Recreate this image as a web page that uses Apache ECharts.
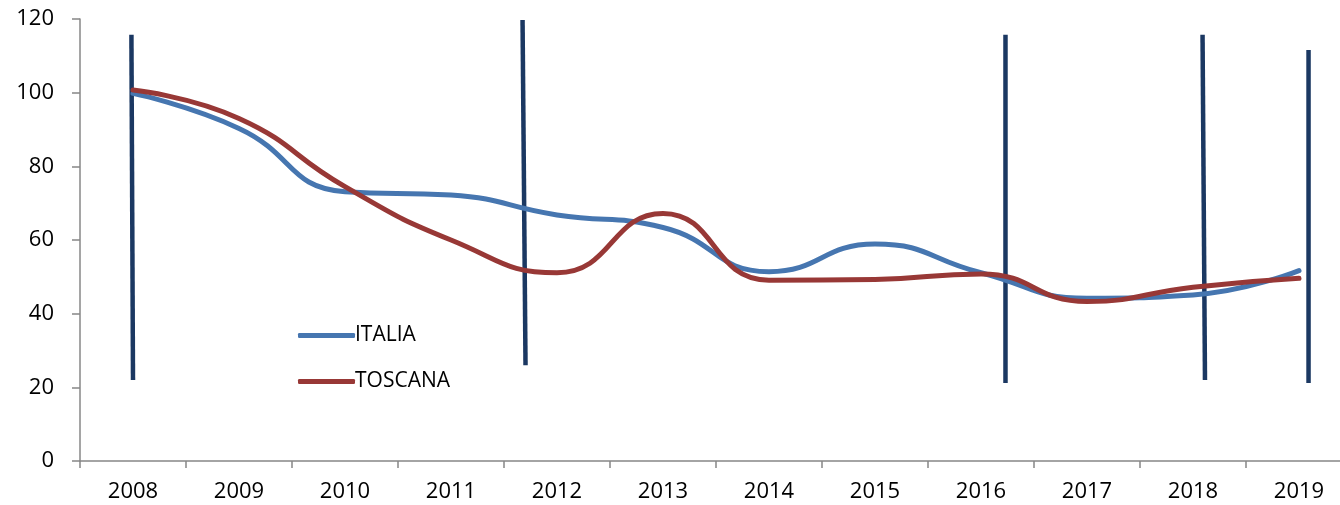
<!DOCTYPE html>
<html>
<head>
<meta charset="utf-8">
<script src="https://cdn.jsdelivr.net/npm/echarts@6/dist/echarts.min.js"></script>
<style>html,body{margin:0;padding:0;background:#fff}#c{width:1340px;height:505px}</style>
</head>
<body>
<div id="c"></div>
<script>
const years = ['2008','2009','2010','2011','2012','2013','2014','2015','2016','2017','2018','2019'];
const italia = [99.8, 90.3, 73.1, 72.2, 66.8, 63.4, 51.4, 58.9, 51.1, 44.2, 45.1, 51.7];
const toscana = [100.7, 93.0, 74.5, 60.0, 51.1, 67.2, 49.1, 49.3, 50.8, 43.3, 47.2, 49.6];
const yTicks = [0, 20, 40, 60, 80, 100, 120];
// decorative vertical markers: [position in category units, value] for top and bottom
const marker1 = [[-0.015, 115.7], [0.0, 22]];
const marker2 = [[3.675, 119.7], [3.703, 26]];
const marker3 = [[8.231, 115.7], [8.231, 21.2]];
const marker4 = [[10.09, 115.7], [10.113, 22]];
const marker5 = [[11.09, 111.6], [11.09, 21.2]];

const font = '"Open Sans", "Noto Sans", sans-serif';
const axisColor = '#878787';
const markerColor = '#1B3862';
const markers = [marker1, marker2, marker3, marker4, marker5].map(function (m) {
  return {
    type: 'line', xAxisIndex: 1, yAxisIndex: 0, data: m, symbol: 'none',
    lineStyle: { color: markerColor, width: 4.5, cap: 'butt' }, silent: true, z: 1
  };
});

const chart = echarts.init(document.getElementById('c'), null, { renderer: 'canvas' });
chart.setOption({
  animation: false,
  backgroundColor: '#fff',
  grid: { left: 80, width: 1272, top: 19, bottom: 44, containLabel: false, outerBoundsMode: 'none' },
  legend: {
    orient: 'vertical', left: 293, top: 320, itemGap: 25,
    itemWidth: 57, itemHeight: 5,
    textStyle: { fontFamily: font, fontSize: 21, color: '#000', padding: [0, 0, 0, -5] },
    data: [
      { name: 'ITALIA', icon: 'roundRect' },
      { name: 'TOSCANA', icon: 'roundRect' }
    ]
  },
  xAxis: [{
    type: 'category', data: years, boundaryGap: true,
    axisLine: { lineStyle: { color: axisColor, width: 1.5 } },
    axisTick: { show: true, length: 7, lineStyle: { color: axisColor, width: 1.5 } },
    axisLabel: { fontFamily: font, fontSize: 22, color: '#000', margin: 20 },
    splitLine: { show: false }
  }, {
    type: 'value', min: -0.5, max: 11.5, show: false, splitLine: { show: false }
  }],
  yAxis: {
    type: 'value', min: 0, max: 120, interval: 20,
    axisLine: { show: true, onZero: false, lineStyle: { color: axisColor, width: 1.5 } },
    axisTick: { show: true, length: 8, lineStyle: { color: axisColor, width: 1.5 } },
    axisLabel: { fontFamily: font, fontSize: 22, color: '#000', margin: 26,
      formatter: function (v) { return yTicks.indexOf(v) >= 0 ? String(v) : ''; } },
    splitLine: { show: false }
  },
  series: markers.concat([
    {
      name: 'ITALIA', type: 'line', data: italia, smooth: 0.5, symbol: 'none',
      lineStyle: { color: '#4676B0', width: 5, cap: 'round' }, itemStyle: { color: '#4676B0' }, z: 3
    },
    {
      name: 'TOSCANA', type: 'line', data: toscana, smooth: 0.5, symbol: 'none',
      lineStyle: { color: '#983836', width: 5, cap: 'round' }, itemStyle: { color: '#983836' }, z: 4
    }
  ])
});
</script>
</body>
</html>
